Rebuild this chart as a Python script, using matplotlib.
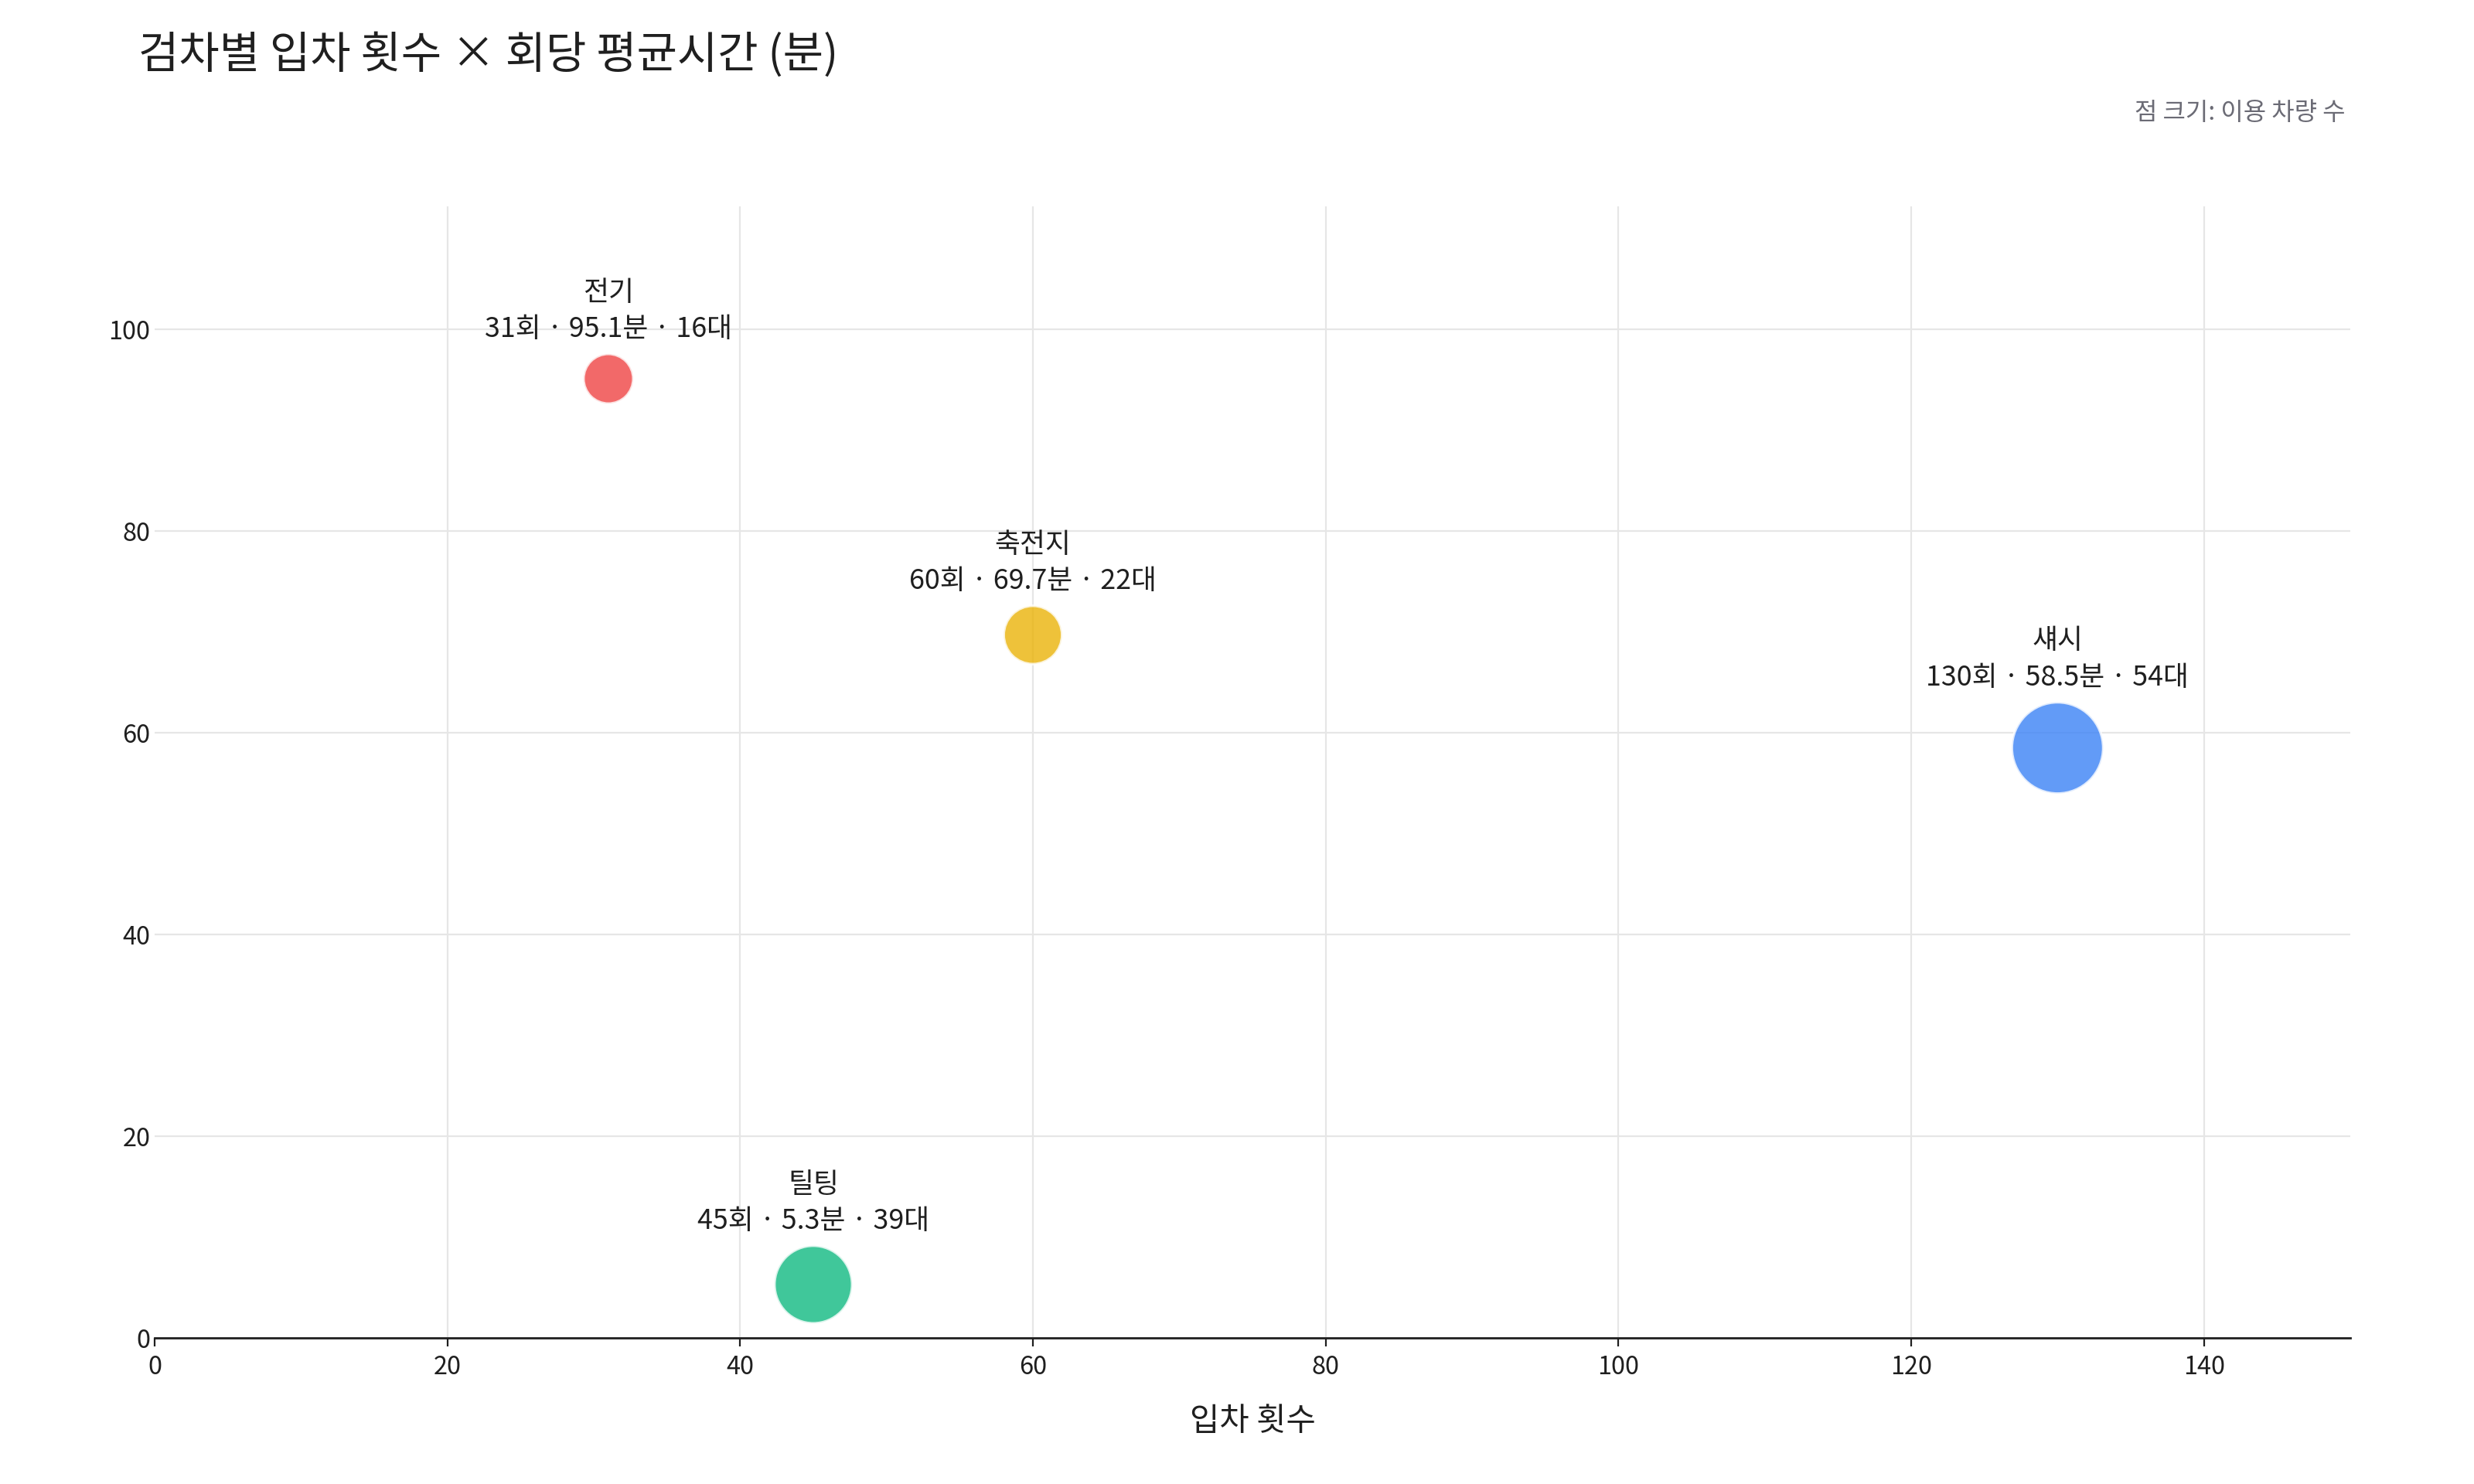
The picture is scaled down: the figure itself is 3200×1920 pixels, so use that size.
import numpy as np
import matplotlib
matplotlib.use("Agg")
import matplotlib.pyplot as plt

plt.rcParams["font.family"] = ["Noto Sans CJK KR", "DejaVu Sans"]

# data
names = ["전기", "축전지", "섀시", "틸팅"]
visits = [31, 60, 130, 45]
avg_minutes = [95.1, 69.7, 58.5, 5.3]
vehicles = [16, 22, 54, 39]
colors = ["#ef4444", "#eab308", "#3b82f6", "#10b981"]

x_ticks = [0, 20, 40, 60, 80, 100, 120, 140]
y_ticks = [0, 20, 40, 60, 80, 100]

SIZE_PER_VEHICLE = 33.5  # marker area (pt^2) per vehicle
TEXT = "#1f1f1f"

fig = plt.figure(figsize=(16, 9.6), dpi=200)
ax = fig.add_axes([0.0625, 0.0984, 0.8875, 0.7626])

sizes = [v * SIZE_PER_VEHICLE for v in vehicles]
ax.scatter(visits, avg_minutes, s=sizes, c=colors, alpha=0.8,
           edgecolors="white", linewidths=1.2, zorder=3)

for name, x, y, v, s in zip(names, visits, avg_minutes, vehicles, sizes):
    r_pt = np.sqrt(s) / 2
    ax.annotate(f"{name}\n{x}회 · {y:.1f}분 · {v}대", (x, y),
                xytext=(0, r_pt + 5), textcoords="offset points",
                ha="center", va="bottom", multialignment="center",
                fontsize=12.9, color=TEXT, linespacing=1.4, zorder=4)

ax.set_xlim(0, 150)
ax.set_ylim(0, 112.2)
ax.set_xticks(x_ticks)
ax.set_yticks(y_ticks)
ax.grid(True, color="#e6e6e6", linewidth=0.8, zorder=0)
ax.set_axisbelow(True)
# no vertical gridline on the y axis itself
ax.get_xgridlines()[0].set_visible(False)

for side in ["top", "right", "left"]:
    ax.spines[side].set_visible(False)
ax.spines["bottom"].set_color(TEXT)
ax.spines["bottom"].set_linewidth(1.0)

ax.tick_params(axis="x", length=4, width=0.8, color=TEXT, labelsize=11.7,
               labelcolor=TEXT, pad=4)
ax.tick_params(axis="y", length=0, labelsize=11.7, labelcolor=TEXT, pad=2)

ax.set_xlabel("입차 횟수", fontsize=15, color=TEXT, labelpad=12)

fig.text(0.056, 0.963, "검차별 입차 횟수 × 회당 평균시간 (분)", fontsize=20.5,
         color=TEXT, ha="left", va="center")
fig.text(0.948, 0.924, "점 크기: 이용 차량 수", fontsize=11.5, color="#6b6b75",
         ha="right", va="center")

fig.savefig("out.png", dpi=200, facecolor="white")
